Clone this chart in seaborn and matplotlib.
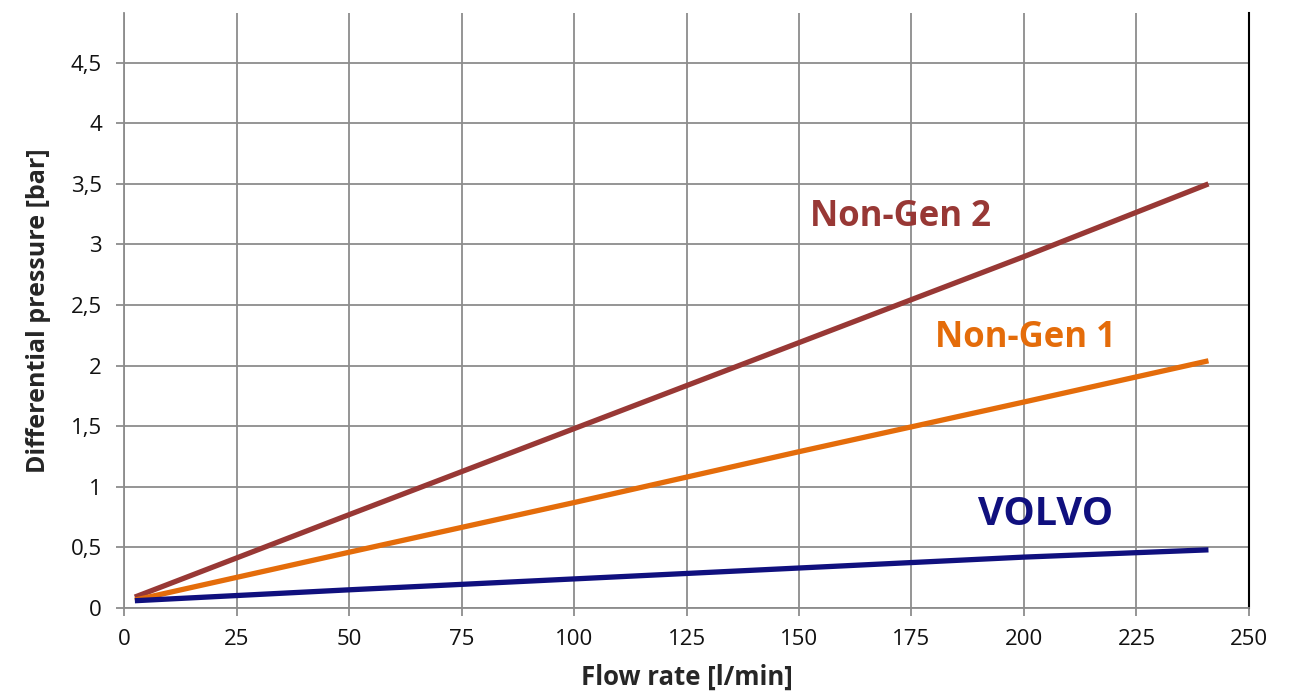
import pandas as pd
import matplotlib.pyplot as plt
import seaborn as sns

# values
flow = [2.4, 50, 100, 150, 200, 241]
non_gen_2 = [0.09, 0.77, 1.48, 2.19, 2.90, 3.50]
non_gen_1 = [0.065, 0.46, 0.87, 1.29, 1.70, 2.04]
volvo = [0.06, 0.15, 0.24, 0.33, 0.42, 0.48]

series = ['Non-Gen 2', 'Non-Gen 1', 'VOLVO']
colors = {'Non-Gen 2': '#983835', 'Non-Gen 1': '#E46C0A', 'VOLVO': '#10107E'}

df = pd.concat([
    pd.DataFrame({'flow': flow, 'dp': non_gen_2, 'series': 'Non-Gen 2'}),
    pd.DataFrame({'flow': flow, 'dp': non_gen_1, 'series': 'Non-Gen 1'}),
    pd.DataFrame({'flow': flow, 'dp': volvo, 'series': 'VOLVO'}),
])

sns.set_style('white')
plt.rcParams['font.family'] = ['Open Sans', 'DejaVu Sans']

fig = plt.figure(figsize=(13.1, 6.97), dpi=100)
ax = fig.add_axes([0.0947, 0.1277, 0.8587, 0.8536])

sns.lineplot(data=df, x='flow', y='dp', hue='series', palette=colors,
             linewidth=3.8, legend=False, ax=ax, solid_capstyle='butt')

ax.set_xlim(0, 250)
ax.set_ylim(0, 4.91)
ax.set_xticks(range(0, 251, 25))
yt = [0, 0.5, 1, 1.5, 2, 2.5, 3, 3.5, 4, 4.5]
ax.set_yticks(yt)
ax.set_yticklabels([f'{v:g}'.replace('.', ',') for v in yt])
ax.grid(True, color='#8c8c8c', linewidth=1.3)
ax.set_axisbelow(True)

ax.spines['top'].set_visible(False)
for s in ['left', 'bottom']:
    ax.spines[s].set_color('#8c8c8c')
    ax.spines[s].set_linewidth(1.3)
ax.spines['right'].set_color('black')
ax.spines['right'].set_linewidth(1.5)

ax.tick_params(axis='both', which='both', direction='out', length=6, width=1.3,
               color='#8c8c8c', labelsize=16, labelcolor='#111111')
ax.tick_params(axis='y', left=True, pad=10)
ax.tick_params(axis='x', bottom=True, pad=9)

ax.set_xlabel('Flow rate [l/min]', fontsize=18.5, fontweight='bold', labelpad=10)
ax.set_ylabel('Differential pressure [bar]', fontsize=18, fontweight='bold', labelpad=14)

ax.text(152.4, 3.23, 'Non-Gen 2', color=colors['Non-Gen 2'], fontsize=25,
        fontweight='bold', va='center', ha='left')
ax.text(180.2, 2.23, 'Non-Gen 1', color=colors['Non-Gen 1'], fontsize=25,
        fontweight='bold', va='center', ha='left')
ax.text(189.8, 0.77, 'VOLVO', color=colors['VOLVO'], fontsize=28.5,
        fontweight='bold', va='center', ha='left')

fig.savefig('out.png', dpi=100)
